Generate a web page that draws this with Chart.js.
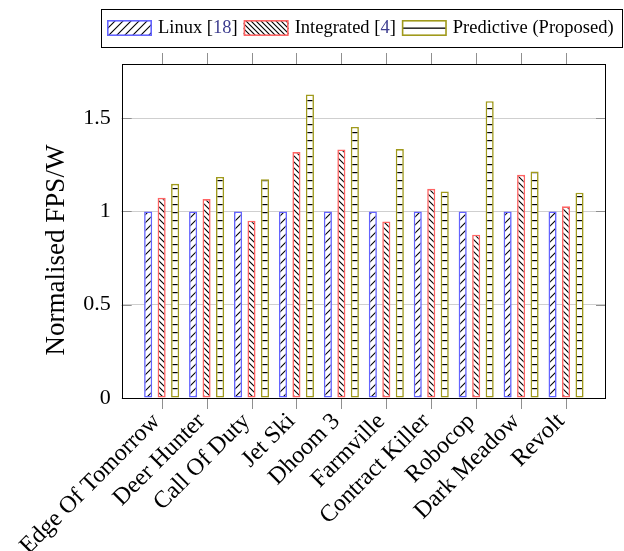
<!DOCTYPE html>
<html><head><meta charset="utf-8">
<script src="https://cdn.jsdelivr.net/npm/chart.js@4"></script>
<style>html,body{margin:0;padding:0;background:#fff}canvas{display:block}</style>
</head><body>
<canvas id="c" width="624" height="551"></canvas>
<script>
const categories = ['Edge Of Tomorrow','Deer Hunter','Call Of Duty','Jet Ski','Dhoom 3','Farmville','Contract Killer','Robocop','Dark Meadow','Revolt'];
const linuxValues = [1, 1, 1, 1, 1, 1, 1, 1, 1, 1];
const integratedValues = [1.073, 1.066, 0.95, 1.318, 1.332, 0.946, 1.121, 0.875, 1.196, 1.027];
const predictiveValues = [1.148, 1.185, 1.173, 1.627, 1.453, 1.334, 1.107, 1.591, 1.214, 1.10];
const yTicks = [0, 0.5, 1, 1.5];
const yTickLabels = ['0', '0.5', '1', '1.5'];
const seriesNames = ['Linux', 'Integrated', 'Predictive (Proposed)'];
const seriesRefs = ['[18]', '[4]', ''];
const yTitle = 'Normalised FPS/W';

const FONT = "'Liberation Serif', 'DejaVu Serif', serif";
const BLUE = '#6464ff', RED = '#ff6464', OLIVE = '#a09a1c', REF = '#3d3d8f';

const canvas = document.getElementById('c');
const ctx = canvas.getContext('2d');

function makePattern(type, s) {
  const c = document.createElement('canvas'); c.width = s; c.height = s;
  const g = c.getContext('2d');
  g.fillStyle = '#fff'; g.fillRect(0, 0, s, s);
  g.strokeStyle = '#000'; g.fillStyle = '#000'; g.lineWidth = 1.1;
  if (type === 'h') {
    g.fillRect(0, Math.floor(s / 2), s, 1.2);
  } else {
    g.beginPath();
    if (type === 'ne') {
      g.moveTo(-1, 1); g.lineTo(1, -1);
      g.moveTo(0, s); g.lineTo(s, 0);
      g.moveTo(s - 1, s + 1); g.lineTo(s + 1, s - 1);
    } else {
      g.moveTo(-1, s - 1); g.lineTo(1, s + 1);
      g.moveTo(0, 0); g.lineTo(s, s);
      g.moveTo(s - 1, -1); g.lineTo(s + 1, 1);
    }
    g.stroke();
  }
  return ctx.createPattern(c, 'repeat');
}
const patNE = makePattern('ne', 8);
const patNW = makePattern('nw', 6);
const patH = makePattern('h', 8);
const patNWsmall = makePattern('nw', 5);

const toPoints = arr => arr.map((v, i) => ({x: i, y: v}));

const framePlugin = {
  id: 'frame',
  afterDatasetsDraw(chart) {
    const {ctx, chartArea: a, scales: {x, y}} = chart;
    ctx.save();
    ctx.strokeStyle = '#8f8f8f'; ctx.lineWidth = 1;
    ctx.beginPath();
    categories.forEach((c, i) => {
      const px = Math.round(x.getPixelForValue(i)) + 0.5;
      ctx.moveTo(px, a.bottom); ctx.lineTo(px, a.bottom + 11);
      ctx.moveTo(px, a.top); ctx.lineTo(px, a.top - 11);
    });
    yTicks.forEach(v => {
      const py = Math.round(y.getPixelForValue(v)) + 0.5;
      ctx.moveTo(a.left, py); ctx.lineTo(a.left + 10, py);
      ctx.moveTo(a.right, py); ctx.lineTo(a.right - 10, py);
    });
    ctx.stroke();
    ctx.strokeStyle = '#000';
    ctx.lineWidth = 1;
    ctx.strokeRect(Math.round(a.left) + 0.5, Math.round(a.top) + 0.5,
      Math.round(a.right - a.left) - 1, Math.round(a.bottom - a.top));
    // y axis title
    ctx.translate(57, 250);
    ctx.rotate(-Math.PI / 2);
    ctx.font = '27px ' + FONT;
    ctx.fillStyle = '#000';
    ctx.textAlign = 'center';
    ctx.textBaseline = 'middle';
    ctx.fillText(yTitle, 0, 0);
    ctx.restore();
  }
};

const legendPlugin = {
  id: 'pgfLegend',
  afterDraw(chart) {
    const ctx = chart.ctx;
    ctx.save();
    const boxL = 101, boxR = 623, boxT = 9, boxB = 47;
    ctx.strokeStyle = '#000'; ctx.lineWidth = 1;
    ctx.strokeRect(boxL + 0.5, boxT + 0.5, boxR - boxL - 1, boxB - boxT);
    ctx.font = '18.5px ' + FONT;
    ctx.textBaseline = 'middle';
    const cy = 28.5;
    let x = boxL + 6;
    const sw = 45, sh = 16, swT = 20;
    const fills = [patNE, patNWsmall, null];
    const cols = [BLUE, RED, OLIVE];
    for (let i = 0; i < 3; i++) {
      ctx.fillStyle = '#fff';
      ctx.fillRect(x, swT, sw, sh);
      if (fills[i]) { ctx.fillStyle = fills[i]; ctx.fillRect(x, swT, sw, sh); }
      else { ctx.fillStyle = '#000'; ctx.fillRect(x + 1, swT + sh / 2 - 0.5, sw - 2, 1.3); }
      ctx.strokeStyle = cols[i]; ctx.lineWidth = 1.6;
      ctx.strokeRect(x + 0.8, swT + 0.8, sw - 1.6, sh - 1.6);
      x += sw + 6;
      ctx.fillStyle = '#000';
      const name = seriesNames[i] + (seriesRefs[i] ? ' ' : '');
      ctx.fillText(name, x, cy);
      x += ctx.measureText(name).width;
      if (seriesRefs[i]) {
        ctx.fillText('[', x, cy); x += ctx.measureText('[').width;
        const inner = seriesRefs[i].slice(1, -1);
        ctx.fillStyle = REF; ctx.fillText(inner, x, cy); x += ctx.measureText(inner).width;
        ctx.fillStyle = '#000'; ctx.fillText(']', x, cy); x += ctx.measureText(']').width;
      }
      x += 6;
    }
    ctx.restore();
  }
};

new Chart(ctx, {
  type: 'bar',
  data: {
    datasets: [
      {label: seriesNames[0], data: toPoints(linuxValues), backgroundColor: patNE, borderColor: BLUE},
      {label: seriesNames[1], data: toPoints(integratedValues), backgroundColor: patNW, borderColor: RED},
      {label: seriesNames[2], data: toPoints(predictiveValues), backgroundColor: patH, borderColor: OLIVE}
    ]
  },
  options: {
    responsive: false,
    animation: false,
    devicePixelRatio: 1,
    datasets: {bar: {categoryPercentage: 0.9, barPercentage: 0.6, borderWidth: 1.6, borderSkipped: false}},
    layout: {padding: {left: 0, right: 18, top: 64, bottom: 0}},
    plugins: {legend: {display: false}, tooltip: {enabled: false}, title: {display: false}},
    scales: {
      x: {
        type: 'linear', min: -0.889, max: 9.889, offset: false,
        afterBuildTicks: s => { s.ticks = categories.map((c, i) => ({value: i})); },
        afterFit: s => { s.height = 551 - 398; },
        grid: {display: false, drawTicks: false},
        border: {display: false},
        ticks: {
          autoSkip: false, minRotation: 45, maxRotation: 45, padding: 19, labelOffset: -5, color: '#000',
          font: {family: FONT, size: 24, lineHeight: '2px'},
          callback: v => categories[v]
        }
      },
      y: {
        min: 0, max: 1.79,
        afterBuildTicks: s => { s.ticks = yTicks.map(v => ({value: v})); },
        afterFit: s => { s.width = 121; },
        grid: {drawTicks: false, color: ctx => (ctx.tick && ctx.tick.value === 0) ? 'rgba(0,0,0,0)' : '#cfcfcf', lineWidth: 1},
        border: {display: false},
        ticks: {
          padding: 11, color: '#000',
          font: {family: FONT, size: 22},
          callback: (v) => yTickLabels[yTicks.indexOf(v)]
        }
      }
    }
  },
  plugins: [framePlugin, legendPlugin]
});
</script>
</body></html>
